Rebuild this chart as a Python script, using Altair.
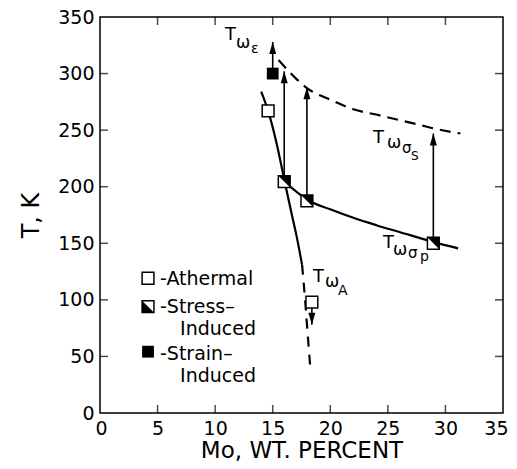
import altair as alt
import pandas as pd

FONT = "DejaVu Sans"

# axis ticks
x_ticks = [0, 5, 10, 15, 20, 25, 30, 35]
y_ticks = [0, 50, 100, 150, 200, 250, 300, 350]
x_inner = [5, 10, 15, 20, 25, 30]
y_inner = [50, 100, 150, 200, 250, 300]

# curves
ss_x = [15.5, 16.5, 17.4, 18.0, 20.0, 22.0, 24.3, 27.8, 29.0, 31.3]
ss_y = [312, 301, 292, 287, 277, 268.5, 263, 254.5, 251.5, 247]
sp_x = [15.6, 16.05, 17.0, 18.0, 20.0, 22.0, 24.0, 26.0, 29.0, 31.1]
sp_y = [208, 204, 196, 188.5, 180, 172.5, 166, 160, 151, 145.5]
a_solid_x = [14.0, 14.6, 15.3, 16.05, 16.6, 17.1, 17.55]
a_solid_y = [284, 267, 240, 204, 178, 155, 131]
a_dash_x = [17.55, 17.85, 18.05, 18.25]
a_dash_y = [131, 95, 68, 42]

# data points
athermal_x = [14.6, 18.4]
athermal_y = [267, 98]
stress_x = [16.0, 17.97, 28.95]
stress_y = [204.5, 187.5, 150]
strain_x = [15.0]
strain_y = [300]

# arrows
arrow_x = [15.0, 16.0, 17.97, 28.95, 18.4]
arrow_from = [300, 204.5, 187.5, 150, 98]
arrow_to = [328, 302, 288, 247, 78]
arrow_dir = ["up", "up", "up", "up", "down"]

# curve labels (pieces: main letter + subscripts)
lab_text = ["T", "ω", "ε", "T", "ω", "σ", "S", "T", "ω", "σ", "p", "T", "ω", "A"]
lab_x = [10.86, 11.81, 13.11, 23.71, 24.93, 26.23, 27.01, 24.58, 25.45, 26.75, 27.79, 18.5, 19.54, 20.67]
lab_y = [329.7, 322.6, 318.2, 238.6, 234.2, 229.8, 223.6, 145.8, 139.6, 137.0, 134.5, 115.8, 111.4, 104.3]
lab_size = [18, 17, 14, 18, 17, 15, 12, 18, 17, 15, 14, 18, 17, 14]

# legend
leg_mx = [4.17, 4.17, 4.17]
leg_my = [119.1, 94.0, 54.2]
leg_text = ["-Athermal", "-Stress–", "Induced", "-Strain–", "Induced"]
leg_tx = [5.21, 5.21, 6.95, 5.21, 6.95]
leg_ty = [113.1, 88.1, 68.9, 46.8, 27.7]

W, H = 403, 396
xs = alt.Scale(domain=[0, 35], nice=False, zero=False)
ys = alt.Scale(domain=[0, 350], nice=False, zero=False)

x_axis = alt.Axis(values=x_ticks, domain=False, ticks=False, grid=False,
                  labelFont=FONT, labelFontSize=19, labelColor="black",
                  labelPadding=6, labelFlush=True, labelFlushOffset=5,
                  titleFont=FONT, titleFontSize=23,
                  titleFontWeight="normal", titleColor="black", titlePadding=1)
y_axis = alt.Axis(values=y_ticks, domain=False, ticks=False, grid=False,
                  labelFont=FONT, labelFontSize=19, labelColor="black",
                  labelPadding=6, titleFont=FONT, titleFontSize=24,
                  titleFontWeight="normal", titleColor="black", titlePadding=14)


def X(f="x"):
    return alt.X(f"{f}:Q", scale=xs, axis=x_axis, title="Mo, WT. PERCENT")


def Y(f="y"):
    return alt.Y(f"{f}:Q", scale=ys, axis=y_axis, title="T, K")


# inward ticks on all four sides
tick_h = pd.DataFrame({"x": [0] * len(y_inner) + [35] * len(y_inner), "y": y_inner * 2})
tick_v = pd.DataFrame({"x": x_inner * 2, "y": [0] * len(x_inner) + [350] * len(x_inner)})
ticks_h = alt.Chart(tick_h).mark_tick(orient="horizontal", size=16, thickness=1.5,
                                       color="black", clip=True).encode(x=X(), y=Y())
ticks_v = alt.Chart(tick_v).mark_tick(orient="vertical", size=16, thickness=1.5,
                                       color="black", clip=True).encode(x=X(), y=Y())


def line(xv, yv, dash=None, width=2.2):
    df = pd.DataFrame({"x": xv, "y": yv})
    kw = dict(color="black", strokeWidth=width, interpolate="monotone")
    if dash:
        kw["strokeDash"] = dash
    return alt.Chart(df).mark_line(**kw).encode(x=X(), y=Y())


l_ss = line(ss_x, ss_y, dash=[11, 7])
l_sp = line(sp_x, sp_y)
l_as = line(a_solid_x, a_solid_y)
l_ad = line(a_dash_x, a_dash_y, dash=[10, 8])

arr_df = pd.DataFrame({"x": arrow_x, "y": arrow_from, "y2": arrow_to, "dir": arrow_dir})
arr_lines = alt.Chart(arr_df).mark_rule(color="black", strokeWidth=1.6).encode(
    x=X(), y=Y(), y2="y2:Q")
up_head = "M0,0 L0.35,1.2 L-0.35,1.2 Z"
down_head = "M0,0 L0.35,-1.2 L-0.35,-1.2 Z"
heads_up = alt.Chart(arr_df).transform_filter(alt.datum.dir == "up").mark_point(
    shape=up_head, size=400, filled=True, color="black", opacity=1).encode(
    x=X(), y=Y("y2"))
heads_down = alt.Chart(arr_df).transform_filter(alt.datum.dir == "down").mark_point(
    shape=down_head, size=400, filled=True, color="black", opacity=1).encode(
    x=X(), y=Y("y2"))

SQ = 140


def open_sq(xv, yv):
    df = pd.DataFrame({"x": xv, "y": yv})
    return alt.Chart(df).mark_point(shape="square", size=SQ, filled=True, fill="white",
                                    stroke="black", strokeWidth=1.5, opacity=1).encode(x=X(), y=Y())


def tri(xv, yv, path):
    df = pd.DataFrame({"x": xv, "y": yv})
    return alt.Chart(df).mark_point(shape=path, size=SQ, filled=True, color="black",
                                    opacity=1).encode(x=X(), y=Y())


def full_sq(xv, yv):
    df = pd.DataFrame({"x": xv, "y": yv})
    return alt.Chart(df).mark_point(shape="square", size=SQ, filled=True, color="black",
                                    opacity=1).encode(x=X(), y=Y())


ath = open_sq(athermal_x, athermal_y)
st_sq = open_sq(stress_x, stress_y)
st_tri = tri(stress_x, stress_y, "M-1,-1 L1,-1 L1,1 Z")
strain = full_sq(strain_x, strain_y)

lab_df = pd.DataFrame({"x": lab_x, "y": lab_y, "t": lab_text, "s": lab_size})
labels = alt.Chart(lab_df).mark_text(font=FONT, align="left", baseline="alphabetic",
                                     color="black").encode(
    x=X(), y=Y(), text="t:N", size=alt.Size("s:Q", scale=None, legend=None))

# legend
leg_ath = open_sq([leg_mx[0]], [leg_my[0]])
leg_st_sq = open_sq([leg_mx[1]], [leg_my[1]])
leg_st_tri = tri([leg_mx[1]], [leg_my[1]], "M-1,-1 L-1,1 L1,1 Z")
leg_strain = full_sq([leg_mx[2]], [leg_my[2]])
leg_txt = alt.Chart(pd.DataFrame({"x": leg_tx, "y": leg_ty, "t": leg_text})).mark_text(
    font=FONT, fontSize=19, align="left", baseline="alphabetic", color="black").encode(
    x=X(), y=Y(), text="t:N")

chart = alt.layer(
    ticks_h, ticks_v, l_ss, l_sp, l_as, l_ad, arr_lines, heads_up, heads_down,
    ath, st_sq, st_tri, strain, labels,
    leg_ath, leg_st_sq, leg_st_tri, leg_strain, leg_txt,
).properties(
    width=W, height=H,
    autosize=alt.AutoSizeParams(type="none"),
    padding={"left": 92, "top": 9, "right": 6, "bottom": 48},
).configure(background="white").configure_view(stroke="black", strokeWidth=1.5)

chart.save("out.html", embed_options={"renderer": "svg", "actions": False})
